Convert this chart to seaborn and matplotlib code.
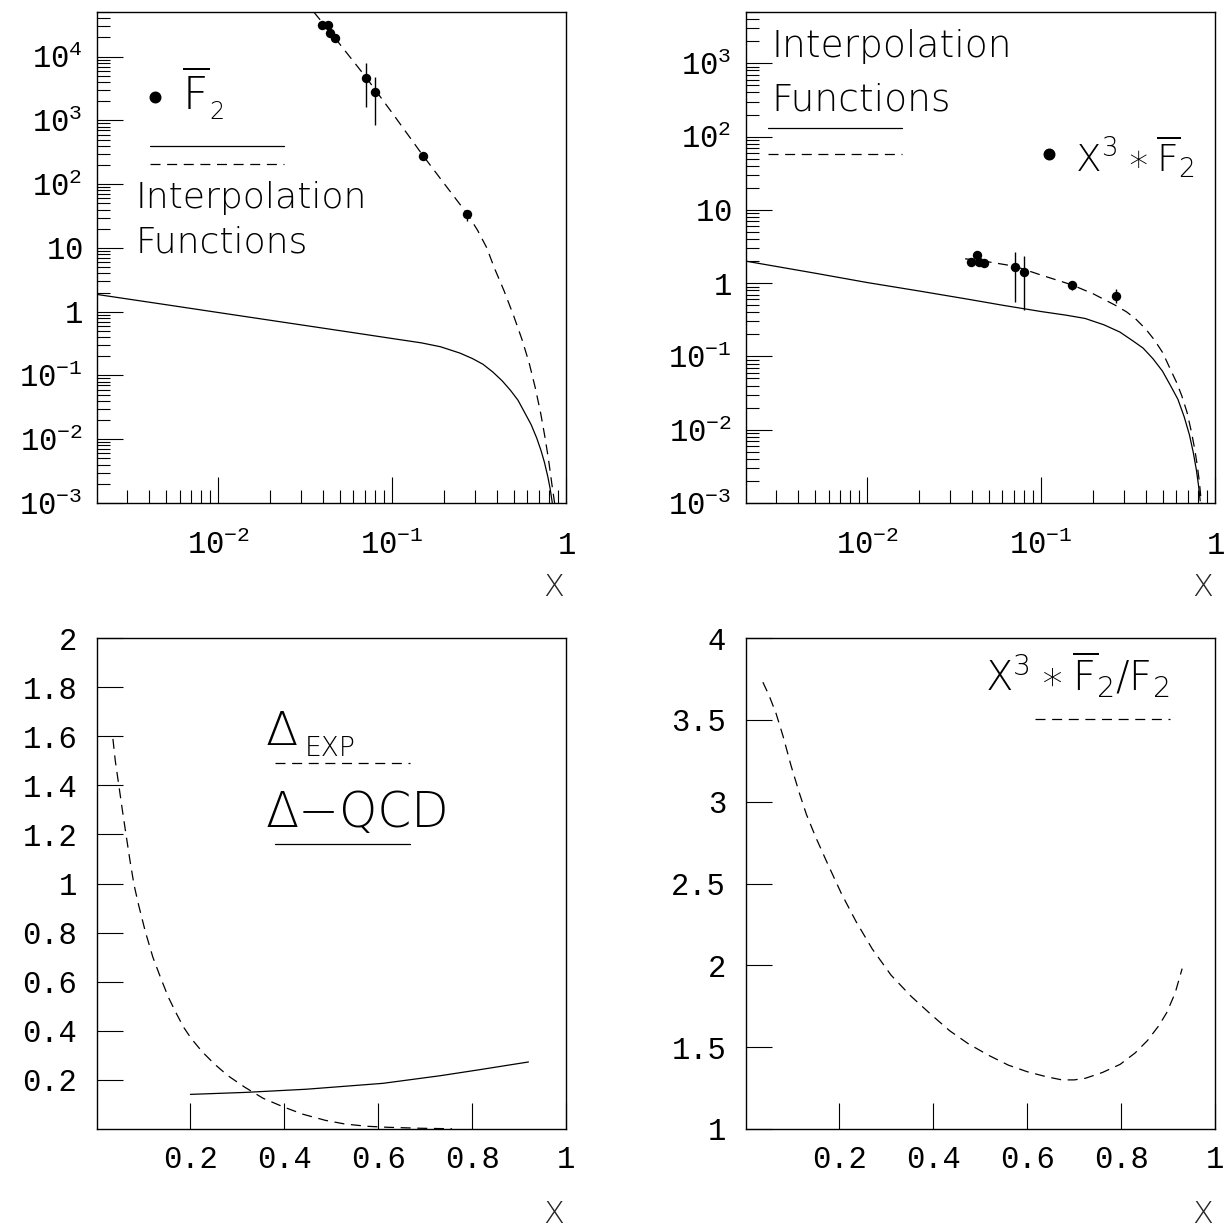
import os
import numpy as np
import pandas as pd
import matplotlib
matplotlib.use("Agg")
import matplotlib.pyplot as plt
import seaborn as sns
from matplotlib import font_manager as fm
from matplotlib.ticker import FixedLocator, FixedFormatter, NullFormatter
from matplotlib.lines import Line2D

# ---------------- data ----------------
# measured points: x and F2-bar (top-left) with error-bar ends
pt_x = [0.0394, 0.0426, 0.0442, 0.0467, 0.0706, 0.0798, 0.150, 0.271]
f2bar = [31300, 31800, 23600, 19300, 4680, 2820, 280, 33.7]
f2bar_lo = [29500, 30000, 22300, 18200, 1640, 847, 250, 26.0]
f2bar_hi = [33200, 33700, 25000, 20500, 7870, 4840, 315, 40.0]

# x^3 * F2-bar points (top-right)
x3f2bar = [1.96, 2.40, 1.95, 1.88, 1.68, 1.41, 0.943, 0.667]
x3f2bar_lo = [1.80, 2.22, 1.80, 1.74, 0.558, 0.43, 0.805, 0.531]
x3f2bar_hi = [2.12, 2.58, 2.10, 2.02, 2.69, 2.37, 1.05, 0.824]

# top-left curves
tl_solid_x = [0.002, 0.005, 0.01, 0.02, 0.0322, 0.05, 0.07, 0.1, 0.12, 0.148,
              0.19, 0.246, 0.29, 0.333, 0.38, 0.43, 0.48, 0.53, 0.584, 0.63,
              0.679, 0.72, 0.752, 0.785, 0.81, 0.83, 0.836]
tl_solid_y = [1.87, 1.29, 0.972, 0.733, 0.604, 0.505, 0.44, 0.38, 0.353, 0.324,
              0.282, 0.224, 0.184, 0.150, 0.113, 0.0822, 0.0583, 0.0408, 0.025, 0.017,
              0.0104, 0.00653, 0.00432, 0.00263, 0.0017, 0.0011, 0.00095]
tl_dash_x = [0.0355, 0.0467, 0.0706, 0.100, 0.150, 0.200, 0.271, 0.31, 0.35,
             0.388, 0.44, 0.501, 0.56, 0.614, 0.665, 0.715, 0.755, 0.791, 0.83, 0.86]
tl_dash_y = [50000, 20000, 4800, 1320, 285, 101, 34.0, 19.0, 10.1,
             4.8, 2.14, 0.85, 0.359, 0.157, 0.065, 0.0257, 0.0112, 0.0051, 0.00195, 0.001]

# top-right curves
tr_solid_x = [0.002, 0.005, 0.01, 0.02, 0.0386, 0.06, 0.1, 0.14, 0.179, 0.23,
              0.284, 0.336, 0.386, 0.44, 0.499, 0.555, 0.612, 0.665, 0.713, 0.75,
              0.782, 0.805, 0.822]
tr_solid_y = [2.0, 1.37, 1.02, 0.78, 0.60, 0.50, 0.41, 0.365, 0.33, 0.27,
              0.215, 0.164, 0.13, 0.093, 0.063, 0.040, 0.026, 0.015, 0.0085, 0.0049,
              0.0028, 0.0017, 0.00107]
tr_dash_x = [0.0366, 0.05, 0.0706, 0.1, 0.150, 0.2, 0.267, 0.31, 0.349, 0.40,
             0.45, 0.50, 0.552, 0.60, 0.644, 0.69, 0.732, 0.765, 0.79, 0.812, 0.832, 0.836]
tr_dash_y = [2.15, 1.95, 1.70, 1.29, 0.95, 0.713, 0.50, 0.406, 0.327, 0.236,
             0.166, 0.113, 0.068, 0.0447, 0.0291, 0.0174, 0.0093, 0.0054, 0.0033, 0.0020,
             0.0011, 0.001]

# bottom-left curves: Delta_EXP (dashed) and Delta-QCD (solid)
bl_dash_x = [0.035, 0.04, 0.047, 0.055, 0.064, 0.072, 0.080, 0.09, 0.104, 0.12,
             0.137, 0.153, 0.170, 0.185, 0.202, 0.225, 0.251, 0.28, 0.316, 0.355,
             0.398, 0.44, 0.488, 0.53, 0.577, 0.62, 0.69, 0.757]
bl_dash_y = [1.589, 1.50, 1.407, 1.30, 1.185, 1.085, 0.994, 0.91, 0.804, 0.70,
             0.614, 0.537, 0.471, 0.416, 0.368, 0.315, 0.265, 0.217, 0.170, 0.125,
             0.090, 0.060, 0.035, 0.020, 0.011, 0.007, 0.003, 0.001]
bl_solid_x = [0.200, 0.316, 0.447, 0.61, 0.732, 0.814, 0.920]
bl_solid_y = [0.141, 0.149, 0.162, 0.186, 0.217, 0.241, 0.273]

# bottom-right curve: x^3*F2bar/F2
br_dash_x = [0.037, 0.05, 0.065, 0.08, 0.097, 0.115, 0.13, 0.15, 0.175, 0.204,
             0.235, 0.270, 0.31, 0.353, 0.395, 0.435, 0.475, 0.518, 0.56, 0.600,
             0.64, 0.674, 0.70, 0.724, 0.76, 0.798, 0.83, 0.856, 0.88, 0.897,
             0.915, 0.930]
br_dash_y = [3.73, 3.65, 3.54, 3.40, 3.22, 3.05, 2.92, 2.78, 2.62, 2.44,
             2.27, 2.10, 1.94, 1.81, 1.70, 1.60, 1.52, 1.45, 1.39, 1.35,
             1.32, 1.30, 1.30, 1.31, 1.345, 1.395, 1.465, 1.54, 1.63, 1.71,
             1.83, 1.98]

# tick labels
log_x_ticks = [1e-2, 1e-1, 1.0]
log_x_labels = [r"$\mathtt{10^{-2}}$", r"$\mathtt{10^{-1}}$", r"$\mathtt{1}$"]
tl_y_exps = [-3, -2, -1, 0, 1, 2, 3, 4]
tr_y_exps = [-3, -2, -1, 0, 1, 2, 3]
lin_x_ticks = [0.2, 0.4, 0.6, 0.8, 1.0]
lin_x_labels = ["0.2", "0.4", "0.6", "0.8", "1"]
bl_y_ticks = [0.2, 0.4, 0.6, 0.8, 1.0, 1.2, 1.4, 1.6, 1.8, 2.0]
bl_y_labels = ["0.2", "0.4", "0.6", "0.8", "1", "1.2", "1.4", "1.6", "1.8", "2"]
br_y_ticks = [1.0, 1.5, 2.0, 2.5, 3.0, 3.5, 4.0]
br_y_labels = ["1", "1.5", "2", "2.5", "3", "3.5", "4"]


# ---------------- fonts ----------------
def pick_light():
    for fam in ["DejaVu Sans", "Open Sans", "Noto Sans", "Roboto", "Lato"]:
        try:
            path = fm.findfont(fm.FontProperties(family=fam, weight=200),
                               fallback_to_default=False)
        except Exception:
            continue
        name = os.path.basename(path).lower()
        key = fam.split()[0].lower()
        if key in name and any(k in name for k in ("light", "thin")):
            return fam
    return None


def has_font(fam):
    try:
        fm.findfont(fm.FontProperties(family=fam), fallback_to_default=False)
        return True
    except Exception:
        return False


MONO = "Liberation Mono" if has_font("Liberation Mono") else "DejaVu Sans Mono"
LIGHT = pick_light()
if LIGHT is None:
    LIGHT_FAM, LIGHT_W, LIGHT_SPEC = "DejaVu Sans", "normal", "DejaVu Sans"
else:
    LIGHT_FAM, LIGHT_W, LIGHT_SPEC = LIGHT, 200, f"{LIGHT}:weight=200"

sns.set_theme(style="white")
plt.rcParams.update({
    "font.family": [MONO, "DejaVu Sans Mono"],
    "mathtext.fontset": "custom",
    "mathtext.tt": MONO,
    "mathtext.rm": LIGHT_SPEC,
    "mathtext.sf": LIGHT_SPEC,
    "mathtext.it": LIGHT_SPEC,
    "axes.linewidth": 1.0,
    "axes.edgecolor": "black",
    "lines.scale_dashes": True,
})

W, H, DPI = 1227, 1232, 100
fig = plt.figure(figsize=(W / DPI, H / DPI), dpi=DPI)
fig.patch.set_facecolor("white")


def axes_px(l, t, r, b):
    return fig.add_axes([l / W, 1 - b / H, (r - l) / W, (b - t) / H])


ax_tl = axes_px(96.5, 12, 566, 503)
ax_tr = axes_px(745.5, 12, 1215, 503)
ax_bl = axes_px(96.5, 638, 566, 1129)
ax_br = axes_px(745.5, 638, 1215, 1129)

DASH = (0, (8, 5.3))
LW = 0.9
TICK_FS = 22


def curve(ax, x, y, dashed):
    df = pd.DataFrame({"x": x, "y": y})
    sns.lineplot(data=df, x="x", y="y", ax=ax, color="black", lw=LW,
                 estimator=None, sort=False,
                 linestyle=DASH if dashed else "-")


def points(ax, x, y, lo, hi):
    ax.vlines(x, lo, hi, color="black", lw=1.0, zorder=4)
    sns.scatterplot(x=x, y=y, ax=ax, color="black", s=46, linewidth=0,
                    zorder=5, legend=False)


def txt(ax, x, y, s, size, **kw):
    kw.setdefault("family", [LIGHT_FAM, "DejaVu Sans"])
    kw.setdefault("weight", LIGHT_W)
    ax.text(x, y, s, transform=ax.transAxes, fontsize=size, ha="left",
            va="baseline", color="black", **kw)


def leg_line(ax, x0, x1, y, dashed):
    ax.add_line(Line2D([x0, x1], [y, y], transform=ax.transAxes, color="black",
                       lw=LW, linestyle=DASH if dashed else "-"))


def leg_dot(ax, x, y):
    ax.add_line(Line2D([x], [y], transform=ax.transAxes, marker="o", ms=7.6,
                       color="black", linestyle="none"))


def base_style(ax, ypad):
    for s in ax.spines.values():
        s.set_visible(True)
        s.set_linewidth(1.0)
        s.set_color("black")
    ax.set_facecolor("white")
    ax.grid(False)
    ax.tick_params(which="both", direction="in", top=False, right=False,
                   left=True, bottom=True, colors="black", width=0.8)
    ax.tick_params(which="major", length=19, labelsize=TICK_FS)
    ax.tick_params(which="minor", length=9.5)
    ax.tick_params(axis="y", which="major", pad=ypad)
    ax.set_ylabel("")
    ax.set_xlabel("X", fontsize=22, family=[LIGHT_FAM, "DejaVu Sans"],
                  weight=LIGHT_W, va="center", ha="center")


def log_ticks(ax, exps, ytop_exp):
    ax.xaxis.set_major_locator(FixedLocator(log_x_ticks))
    ax.xaxis.set_major_formatter(FixedFormatter(log_x_labels))
    xmin = [k * 10.0 ** e for e in (-3, -2, -1) for k in range(2, 10)]
    ax.xaxis.set_minor_locator(FixedLocator([v for v in xmin if v > 0.00201]))
    ax.xaxis.set_minor_formatter(NullFormatter())
    ylocs = [10.0 ** e for e in exps]
    ylabs = []
    for e in exps:
        if e == 0:
            ylabs.append(r"$\mathtt{1}\enspace\,$")
        elif e == 1:
            ylabs.append(r"$\mathtt{10}\enspace\,$")
        else:
            ylabs.append(r"$\mathtt{10^{%d}}$" % e)
    ax.yaxis.set_major_locator(FixedLocator(ylocs))
    ax.yaxis.set_major_formatter(FixedFormatter(ylabs))
    ymin = [k * 10.0 ** e for e in range(exps[0], exps[-1] + 1) for k in range(2, 10)
            if k * 10.0 ** e < 10 ** ytop_exp]
    ax.yaxis.set_minor_locator(FixedLocator(ymin))
    ax.yaxis.set_minor_formatter(NullFormatter())
    ax.tick_params(axis="x", which="major", pad=37)


# ---------------- top-left ----------------
ax = ax_tl
ax.set_xscale("log")
ax.set_yscale("log")
curve(ax, tl_solid_x, tl_solid_y, False)
curve(ax, tl_dash_x, tl_dash_y, True)
points(ax, pt_x, f2bar, f2bar_lo, f2bar_hi)
base_style(ax, 10)
log_ticks(ax, tl_y_exps, 4.7)
ax.set_xlim(10 ** -2.699, 1.0)
ax.set_ylim(1e-3, 10 ** 4.7)
leg_dot(ax, 0.1246, 0.8263)
txt(ax, 0.1815, 0.8004, r"$\mathrm{\overline{F}}$", 32)
txt(ax, 0.2396, 0.7814, "2", 17)
leg_line(ax, 0.114, 0.400, 0.7271, False)
leg_line(ax, 0.114, 0.400, 0.6904, True)
txt(ax, 0.0841, 0.6002, "Interpolation", 26)
txt(ax, 0.0841, 0.5098, "Functions", 26)
ax.xaxis.set_label_coords(0.974, -0.172)

# ---------------- top-right ----------------
ax = ax_tr
ax.set_xscale("log")
ax.set_yscale("log")
curve(ax, tr_solid_x, tr_solid_y, False)
curve(ax, tr_dash_x, tr_dash_y, True)
points(ax, pt_x, x3f2bar, x3f2bar_lo, x3f2bar_hi)
base_style(ax, 10)
log_ticks(ax, tr_y_exps, 3.7)
ax.set_xlim(10 ** -2.699, 1.0)
ax.set_ylim(1e-3, 10 ** 3.7)
txt(ax, 0.0558, 0.909, "Interpolation", 27)
txt(ax, 0.0558, 0.800, "Functions", 27)
leg_line(ax, 0.0486, 0.3327, 0.7644, False)
leg_line(ax, 0.0486, 0.3327, 0.7102, True)
leg_dot(ax, 0.647, 0.7102)
txt(ax, 0.702, 0.6748, r"$\mathrm{X^{3}\ast\overline{F}_{2}}$", 27)
ax.xaxis.set_label_coords(0.974, -0.172)

# ---------------- bottom-left ----------------
ax = ax_bl
curve(ax, bl_dash_x, bl_dash_y, True)
curve(ax, bl_solid_x, bl_solid_y, False)
base_style(ax, 14)
ax.xaxis.set_major_locator(FixedLocator(lin_x_ticks))
ax.xaxis.set_major_formatter(FixedFormatter(lin_x_labels))
ax.yaxis.set_major_locator(FixedLocator(bl_y_ticks))
ax.yaxis.set_major_formatter(FixedFormatter(bl_y_labels))
ax.minorticks_off()
ax.tick_params(axis="x", which="major", pad=28)
ax.set_xlim(0, 1)
ax.set_ylim(0, 2)
txt(ax, 0.361, 0.782, "Δ", 34)
txt(ax, 0.444, 0.760, "EXP", 19)
leg_line(ax, 0.380, 0.668, 0.745, True)
txt(ax, 0.361, 0.616, "Δ−QCD", 35)
leg_line(ax, 0.380, 0.668, 0.580, False)
ax.xaxis.set_label_coords(0.974, -0.175)

# ---------------- bottom-right ----------------
ax = ax_br
curve(ax, br_dash_x, br_dash_y, True)
base_style(ax, 14)
ax.xaxis.set_major_locator(FixedLocator(lin_x_ticks))
ax.xaxis.set_major_formatter(FixedFormatter(lin_x_labels))
ax.yaxis.set_major_locator(FixedLocator(br_y_ticks))
ax.yaxis.set_major_formatter(FixedFormatter(br_y_labels))
ax.minorticks_off()
ax.tick_params(axis="x", which="major", pad=28)
ax.set_xlim(0, 1)
ax.set_ylim(1, 4)
txt(ax, 0.510, 0.8906, r"$\mathrm{X^{3}\ast\overline{F}_{2}/F_{2}}$", 29)
leg_line(ax, 0.6166, 0.904, 0.835, True)
ax.xaxis.set_label_coords(0.974, -0.175)

fig.canvas.draw()
for a in (ax_tl, ax_tr, ax_bl, ax_br):
    for lab in a.get_xticklabels():
        lab.set_verticalalignment("baseline")

fig.savefig("out.png", dpi=DPI, facecolor="white")
